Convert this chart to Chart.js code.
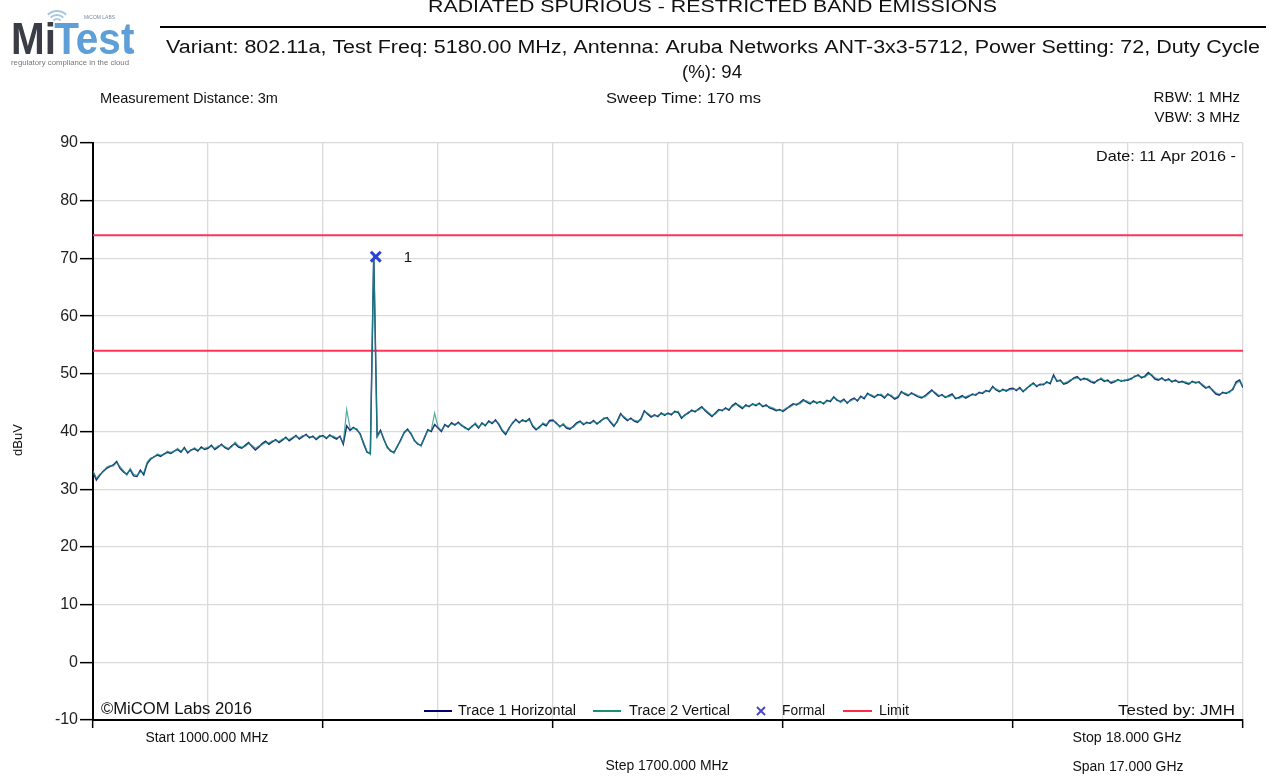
<!DOCTYPE html>
<html>
<head>
<meta charset="utf-8">
<script src="https://cdn.jsdelivr.net/npm/chart.js@4.4.1/dist/chart.umd.min.js"></script>
<style>
html,body{margin:0;padding:0;background:#fff;}
#wrap{position:relative;width:1273px;height:778px;}
</style>
</head>
<body>
<div id="wrap"><canvas id="c" width="1273" height="778"></canvas></div>
<script>
// ---- data ----
const startMHz = 1000;
const stopMHz = 18000;
const stepMHz = 50;          // sweep point spacing
const gridStepMHz = 1700;    // "Step 1700.000 MHz"
const yTicks = [-10, 0, 10, 20, 30, 40, 50, 60, 70, 80, 90];
const limitValues = [74, 54];
const markerFreq = [5180];
const markerLevel = [70.3];
const markerLabels = ['1'];

const trace1Horizontal = [
 33.0,31.6,32.4,33.1,33.6,33.9,34.2,34.8,33.6,33.0,32.6,33.4,32.3,32.2,33.3,32.5,34.4,
 35.2,35.6,35.9,35.7,36.1,36.4,36.2,36.6,36.9,36.4,37.2,36.3,36.8,37.0,36.6,37.3,36.9,
 37.1,37.6,36.9,37.3,37.8,37.2,36.9,37.5,37.9,37.3,37.1,37.6,38.1,37.4,36.8,37.3,37.9,
 38.3,37.8,38.2,38.6,38.1,38.5,39.0,38.4,38.8,39.3,38.7,39.1,39.5,38.9,39.2,38.6,39.1,
 39.3,38.8,39.4,39.0,38.7,39.2,37.8,41.0,40.2,40.7,40.3,39.6,37.9,36.4,36.2,70.6,39.2,
 40.2,38.6,37.3,36.6,36.4,37.4,38.6,39.8,40.4,39.6,38.5,37.8,37.6,38.9,40.3,40.0,41.2,
 40.6,40.0,41.2,40.8,41.5,41.1,41.6,41.0,40.7,40.3,40.9,41.3,40.6,41.5,41.0,41.8,41.4,
 42.0,41.2,40.1,39.5,40.6,41.4,42.1,41.5,42.0,41.7,42.2,40.9,40.3,40.8,41.3,41.0,41.9,
 42.0,41.4,40.9,41.2,40.6,40.4,40.9,41.5,41.8,41.2,41.6,41.4,41.9,41.3,41.8,42.2,42.4,
 41.6,40.9,41.8,43.1,42.4,41.9,42.3,41.8,41.6,42.2,43.6,43.0,42.5,42.9,42.6,43.2,42.8,
 43.2,42.9,43.5,43.3,42.3,42.9,43.2,43.7,43.4,43.9,44.3,43.6,43.1,42.6,43.2,43.8,43.6,
 44.1,43.7,44.5,44.9,44.4,44.0,44.6,44.3,44.8,44.5,44.9,44.3,44.6,44.1,43.9,43.6,43.8,
 43.5,43.9,44.4,44.8,44.6,45.0,45.5,45.1,44.8,45.3,44.9,45.2,44.8,45.4,45.2,46.0,45.4,
 45.2,45.6,44.9,45.5,45.8,45.3,46.1,45.7,46.6,46.2,45.9,46.4,46.3,45.8,46.5,46.1,45.6,
 45.9,46.9,46.5,46.2,46.7,46.3,46.0,45.8,46.2,46.7,47.2,46.6,46.1,46.4,45.9,46.2,46.5,
 45.7,45.9,46.2,45.8,46.1,46.5,46.3,46.8,46.6,47.1,46.9,47.8,47.2,46.9,47.3,47.0,47.4,
 47.5,47.1,47.6,46.9,47.5,47.9,48.4,47.8,48.2,48.1,48.6,48.3,49.8,48.7,48.9,48.2,48.4,
 48.8,49.3,49.5,48.9,49.2,49.0,48.6,48.4,48.9,49.1,48.7,48.9,48.4,48.6,49.0,48.7,48.9,
 48.9,49.2,49.5,49.8,49.3,49.6,50.2,49.7,49.1,48.9,49.3,48.8,49.1,48.6,48.9,48.5,48.7,
 48.4,48.2,48.7,48.4,48.6,48.0,47.5,47.8,47.1,46.5,46.3,46.8,46.6,46.9,47.3,48.6,48.9,
 47.6
];

const trace2Vertical = [
 33.2,31.9,32.6,33.0,33.8,34.1,34.0,34.6,33.9,33.2,32.4,33.6,32.6,32.4,33.0,32.8,34.7,
 35.4,35.5,36.1,35.9,36.0,36.6,36.4,36.5,37.1,36.6,37.0,36.5,36.7,37.2,36.8,37.1,37.1,
 37.3,37.4,37.1,37.5,37.6,37.4,37.1,37.3,38.2,37.5,37.3,37.4,37.9,37.6,37.1,37.5,37.7,
 38.1,38.0,38.4,38.4,38.3,38.7,38.8,38.6,39.0,39.1,38.9,39.3,39.3,39.1,39.0,38.8,39.3,
 39.1,39.0,39.2,39.2,38.9,39.0,38.1,43.8,40.6,40.5,40.5,39.4,38.1,36.6,36.0,70.9,39.0,
 40.0,38.8,37.1,36.8,36.2,37.6,38.4,40.0,40.2,39.8,38.3,38.0,37.4,39.1,40.1,40.2,43.2,
 40.8,40.2,41.0,41.0,41.3,41.3,41.4,41.2,40.5,40.5,40.7,41.5,40.8,41.3,41.2,41.6,41.6,
 41.8,41.4,40.3,39.7,40.4,41.6,41.9,41.7,41.8,41.9,42.0,41.1,40.5,40.6,41.5,41.2,41.7,
 41.8,41.6,40.7,41.4,40.8,40.6,40.7,41.3,41.6,41.4,41.4,41.6,41.7,41.5,41.6,42.4,42.2,
 41.8,41.1,41.6,42.9,42.6,42.1,42.1,42.0,41.8,42.0,43.4,43.2,42.7,42.7,42.8,43.0,43.0,
 43.0,43.1,43.3,43.5,42.5,42.7,43.4,43.5,43.6,43.7,44.1,43.8,43.3,42.8,43.0,43.6,43.8,
 43.9,43.9,44.3,44.7,44.6,44.2,44.4,44.5,44.6,44.7,44.7,44.5,44.4,44.3,44.1,43.8,43.6,
 43.7,44.1,44.2,44.6,44.8,44.8,45.3,45.3,45.0,45.1,45.1,45.0,45.0,45.2,45.4,45.8,45.6,
 45.0,45.4,45.1,45.3,45.6,45.5,45.9,45.9,46.4,46.4,46.1,46.2,46.5,46.0,46.3,46.3,45.8,
 46.1,46.7,46.7,46.4,46.5,46.5,46.2,46.0,46.0,46.5,47.0,46.8,46.3,46.2,46.1,46.0,46.3,
 45.9,45.7,46.0,46.0,46.3,46.3,46.5,46.6,46.8,46.9,47.1,47.6,47.4,47.1,47.1,47.2,47.2,
 47.3,47.3,47.4,47.1,47.3,48.1,48.2,48.0,48.0,48.3,48.4,48.5,49.5,48.9,48.7,48.4,48.6,
 49.0,49.1,49.3,49.1,49.0,49.2,48.8,48.6,48.7,49.3,48.9,48.7,48.6,48.8,48.8,48.9,48.7,
 49.1,49.0,49.7,49.6,49.5,49.4,49.9,49.9,49.3,49.1,49.1,49.0,48.9,48.8,48.7,48.7,48.5,
 48.6,48.4,48.5,48.6,48.4,48.2,47.7,47.6,47.3,46.7,46.5,46.6,46.8,46.7,47.5,48.3,48.7,
 47.8
];

// ---- build datasets ----
const freqs = trace1Horizontal.map((_, i) => startMHz + i * stepMHz);
const xTicks = [];
for (let f = startMHz; f <= stopMHz + 0.1; f += gridStepMHz) xTicks.push(f);

const pts = arr => arr.map((v, i) => ({ x: freqs[i], y: v }));

const COL_T1 = '#1e2f7c';
const COL_T2 = 'rgba(24,146,128,0.75)';
const COL_LIMIT = '#ff3358';
const COL_MARK = '#2b44d8';

const datasets = [
  { label: 'Trace 1 Horizontal', data: pts(trace1Horizontal), borderColor: COL_T1, borderWidth: 1.5, pointRadius: 0, tension: 0, order: 3 },
  { label: 'Trace 2 Vertical', data: pts(trace2Vertical), borderColor: COL_T2, borderWidth: 1.2, pointRadius: 0, tension: 0, order: 2 },
];
limitValues.forEach(v => datasets.push({
  label: 'Limit', data: [{ x: startMHz, y: v }, { x: stopMHz, y: v }],
  borderColor: COL_LIMIT, borderWidth: 2, pointRadius: 0, order: 4
}));
datasets.push({
  label: 'Formal', data: markerFreq.map((f, i) => ({ x: f, y: markerLevel[i] })),
  showLine: false, pointStyle: 'crossRot', pointRadius: 7, borderColor: COL_MARK, borderWidth: 3, order: 0
});

const FONT = '"Liberation Sans", Arial, sans-serif';
function txt(ctx, s, x, y, size, align, opts) {
  opts = opts || {};
  ctx.save();
  ctx.font = (opts.bold ? 'bold ' : '') + size + 'px ' + FONT;
  ctx.textBaseline = 'middle';
  ctx.fillStyle = opts.color || '#111';
  if (opts.width) {
    const w = ctx.measureText(s).width;
    const sx = opts.width / w;
    let lx = x;
    if (align === 'center') lx = x - opts.width / 2;
    else if (align === 'right') lx = x - opts.width;
    ctx.textAlign = 'left';
    ctx.translate(lx, y);
    ctx.scale(sx, 1);
    ctx.fillText(s, 0, 0);
  } else {
    ctx.textAlign = align;
    ctx.fillText(s, x, y);
  }
  ctx.restore();
}

const decor = {
  id: 'decor',
  beforeDraw(chart) {
    const ctx = chart.ctx;
    ctx.save(); ctx.fillStyle = '#fff'; ctx.fillRect(0, 0, chart.width, chart.height); ctx.restore();
  },
  afterDraw(chart) {
    const ctx = chart.ctx;
    const xs = chart.scales.x, ys = chart.scales.y;
    // logo
    ctx.save();
    ctx.strokeStyle = '#a9c7e2'; ctx.lineWidth = 2;
    [5, 9, 13].forEach(r => { ctx.beginPath(); ctx.arc(57, 24, r, Math.PI * 1.25, Math.PI * 1.75); ctx.stroke(); });
    ctx.restore();
    ctx.save();
    ctx.font = 'bold 44px ' + FONT; ctx.textBaseline = 'alphabetic'; ctx.textAlign = 'left';
    ctx.fillStyle = '#3b3d46';
    ctx.save(); ctx.translate(11, 54); ctx.scale(0.92, 1); ctx.fillText('Mi', 0, 0);
    const mw = ctx.measureText('Mi').width;
    ctx.fillStyle = '#5d9fd6'; ctx.fillText('Test', mw - 2, 0); ctx.restore();
    ctx.restore();
    txt(ctx, 'MiCOM LABS', 84, 18, 5, 'left', { color: '#7a8aa0' });
    txt(ctx, 'regulatory compliance in the cloud', 11, 63, 7, 'left', { color: '#777', width: 118 });
    ctx.beginPath(); ctx.arc(131, 49, 1.5, 0, Math.PI * 2); ctx.fillStyle = '#5d9fd6'; ctx.fill();

    // header
    txt(ctx, 'RADIATED SPURIOUS - RESTRICTED BAND EMISSIONS', 428, 8, 16, 'left', { width: 569 });
    ctx.save(); ctx.strokeStyle = '#000'; ctx.lineWidth = 2;
    ctx.beginPath(); ctx.moveTo(160, 27); ctx.lineTo(1266, 27); ctx.stroke(); ctx.restore();
    txt(ctx, 'Variant: 802.11a, Test Freq: 5180.00 MHz, Antenna: Aruba Networks ANT-3x3-5712, Power Setting: 72, Duty Cycle', 166, 48, 18, 'left', { width: 1094 });
    txt(ctx, '(%): 94', 712, 73, 18, 'center', { width: 60 });
    txt(ctx, 'Measurement Distance: 3m', 100, 99, 15, 'left', { width: 178 });
    txt(ctx, 'Sweep Time: 170 ms', 606, 99, 15, 'left', { width: 155 });
    txt(ctx, 'RBW: 1 MHz', 1240, 98, 15, 'right');
    txt(ctx, 'VBW: 3 MHz', 1240, 118, 15, 'right');
    txt(ctx, 'Date: 11 Apr 2016 -', 1236, 157, 15, 'right', { width: 140 });

    // y axis title
    ctx.save(); ctx.translate(18, 440); ctx.rotate(-Math.PI / 2);
    txt(ctx, 'dBuV', 0, 0, 13, 'center'); ctx.restore();

    // marker label
    markerFreq.forEach((f, i) => {
      txt(ctx, markerLabels[i], xs.getPixelForValue(f) + 28, ys.getPixelForValue(markerLevel[i]) + 1, 15, 'left');
    });

    // bottom-in-plot texts
    txt(ctx, '\u00A9MiCOM Labs 2016', 101, 710, 16, 'left', { width: 151 });
    txt(ctx, 'Tested by: JMH', 1118, 711, 15, 'left', { width: 117 });

    // legend
    const ly = 711;
    ctx.save(); ctx.lineWidth = 2;
    ctx.strokeStyle = '#00006e'; ctx.beginPath(); ctx.moveTo(424, ly); ctx.lineTo(452, ly); ctx.stroke();
    ctx.strokeStyle = '#16907c'; ctx.beginPath(); ctx.moveTo(593, ly); ctx.lineTo(621, ly); ctx.stroke();
    ctx.strokeStyle = '#ff2a48'; ctx.beginPath(); ctx.moveTo(843, ly); ctx.lineTo(872, ly); ctx.stroke();
    ctx.strokeStyle = '#4a4ac8'; ctx.lineWidth = 2;
    ctx.beginPath(); ctx.moveTo(757, ly - 4); ctx.lineTo(765, ly + 4); ctx.moveTo(765, ly - 4); ctx.lineTo(757, ly + 4); ctx.stroke();
    ctx.restore();
    txt(ctx, 'Trace 1 Horizontal', 458, ly, 14, 'left', { width: 118 });
    txt(ctx, 'Trace 2 Vertical', 629, ly, 14, 'left', { width: 101 });
    txt(ctx, 'Formal', 782, ly, 14, 'left', { width: 43 });
    txt(ctx, 'Limit', 879, ly, 14, 'left', { width: 30 });

    // below axis
    txt(ctx, 'Start 1000.000 MHz', 207, 738, 14, 'center', { width: 123 });
    txt(ctx, 'Stop 18.000 GHz', 1127, 738, 14, 'center', { width: 109 });
    txt(ctx, 'Step 1700.000 MHz', 667, 766, 14, 'center', { width: 123 });
    txt(ctx, 'Span 17.000 GHz', 1128, 767, 14, 'center', { width: 111 });
  }
};

new Chart(document.getElementById('c'), {
  type: 'line',
  data: { datasets },
  options: {
    responsive: false,
    animation: false,
    parsing: true,
    layout: { padding: { left: 0, top: 143, right: 30, bottom: 0 } },
    plugins: { legend: { display: false }, tooltip: { enabled: false }, title: { display: false } },
    scales: {
      x: {
        type: 'linear', min: startMHz, max: stopMHz,
        afterBuildTicks: s => { s.ticks = xTicks.map(v => ({ value: v })); },
        afterFit: s => { s.height = 58; },
        ticks: { display: false },
        grid: {
          color: '#dadada', lineWidth: 1.3, drawTicks: true, tickLength: 8,
          tickColor: c => (c.index % 2 === 0 ? '#000' : 'rgba(0,0,0,0)'), tickWidth: 1.5
        },
        border: { color: '#000', width: 2 }
      },
      y: {
        type: 'linear', min: -10, max: 90,
        afterBuildTicks: s => { s.ticks = yTicks.map(v => ({ value: v })); },
        afterFit: s => { s.width = 93; },
        ticks: { color: '#222', font: { family: FONT, size: 16 }, padding: 2 },
        grid: { color: '#dadada', lineWidth: 1.3, drawTicks: true, tickLength: 13, tickColor: '#000', tickWidth: 1.5 },
        border: { color: '#000', width: 2 }
      }
    }
  },
  plugins: [decor]
});
</script>
</body>
</html>
